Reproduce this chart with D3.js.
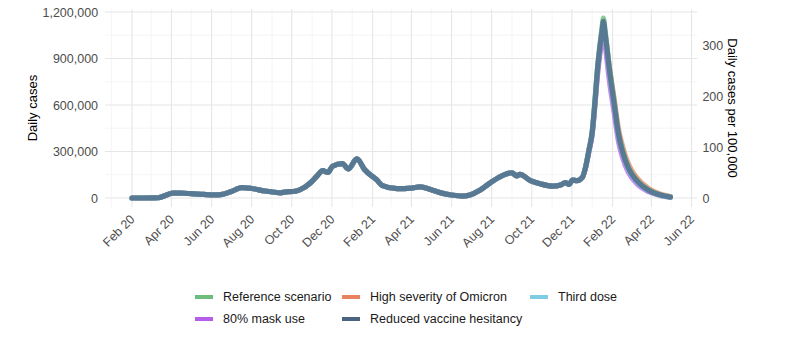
<!DOCTYPE html>
<html>
<head>
<meta charset="utf-8">
<script src="https://cdn.jsdelivr.net/npm/d3@7"></script>
<style>
  html, body { margin: 0; padding: 0; background: #fff; }
  svg { display: block; font-family: "Liberation Sans", Arial, Helvetica, sans-serif; }
</style>
</head>
<body>
<svg id="chart" width="800" height="348"></svg>
<script>
// ---------------- DATA ----------------
const histDates = [
  "2020-02-01","2020-03-01","2020-03-12","2020-03-22","2020-04-03","2020-04-15","2020-05-01","2020-05-20",
  "2020-06-05","2020-06-15","2020-06-30","2020-07-17","2020-08-01","2020-08-21","2020-09-05","2020-09-14",
  "2020-09-22","2020-10-03","2020-10-13","2020-10-30","2020-11-09","2020-11-17","2020-11-25","2020-12-02",
  "2020-12-17","2020-12-26","2021-01-08","2021-01-20","2021-02-07","2021-02-16","2021-03-10","2021-04-01",
  "2021-04-14","2021-05-02","2021-05-16","2021-06-01","2021-06-18","2021-06-29","2021-07-14","2021-07-29",
  "2021-08-19","2021-09-01","2021-09-08","2021-09-13","2021-09-29","2021-10-15","2021-11-02","2021-11-14",
  "2021-11-21","2021-11-27","2021-12-02","2021-12-09"
];
const histCases = [
  0, 300, 1500, 15000, 31000, 31000, 28000, 23000,
  20000, 22000, 40000, 67000, 61000, 45000, 37000, 33000,
  40000, 42000, 52000, 100000, 145000, 176000, 165000, 205000,
  222000, 187000, 252000, 182000, 118000, 80000, 60000, 64000,
  72000, 52000, 33000, 19000, 12000, 20000, 50000, 95000,
  148000, 163000, 142000, 153000, 112000, 90000, 77000, 84000,
  99000, 88000, 116000, 112000
];

const projDates = [
  "2021-12-17","2021-12-22","2021-12-27","2022-01-01","2022-01-05","2022-01-09","2022-01-13","2022-01-16",
  "2022-01-18","2022-01-21","2022-01-27","2022-02-03","2022-02-10","2022-02-16","2022-02-25","2022-03-10",
  "2022-03-28","2022-04-15","2022-04-30"
];
// values in thousands of daily cases
const referenceProj = [133,200,310,430,620,840,1000,1100,1160,1065,845,632,420,310,200,116,52,20,7];
const severityProj  = [133,200,305,420,600,815,965,1055,1110,1040,850,650,445,335,220,130,60,24,9];
const thirdDoseProj = [133,200,308,425,610,825,980,1075,1130,1035,815,605,400,292,185,105,46,17,6];
const maskProj      = [133,198,300,410,590,790,940,1030,1080,980,760,560,365,262,165,92,40,15,5];
const hesitancyProj = [133,200,308,425,612,828,985,1082,1140,1050,830,618,410,300,192,110,49,19,6];

const seriesNames  = ["Reference scenario","High severity of Omicron","Third dose","80% mask use","Reduced vaccine hesitancy"];
const seriesColors = ["#6dbd7d","#e9825f","#7fcce3","#b55ee9","#4b6483"];
const seriesOpacity = [0.8, 0.75, 0.75, 0.75, 0.78];
const seriesProj   = [referenceProj, severityProj, thirdDoseProj, maskProj, hesitancyProj];

const yTicks = [0, 300000, 600000, 900000, 1200000];
const yMinor = [150000, 450000, 750000, 1050000];
const y2Ticks = [0, 100, 200, 300];
const xTicks = ["2020-02-01","2020-04-01","2020-06-01","2020-08-01","2020-10-01","2020-12-01","2021-02-01",
  "2021-04-01","2021-06-01","2021-08-01","2021-10-01","2021-12-01","2022-02-01","2022-04-01","2022-06-01"];
const xMinor = ["2020-01-01","2020-03-01","2020-05-01","2020-07-01","2020-09-01","2020-11-01","2021-01-01",
  "2021-03-01","2021-05-01","2021-07-01","2021-09-01","2021-11-01","2022-01-01","2022-03-01","2022-05-01"];
const population100k = 3290; // cases per 1 per-100,000 unit (US population ~329M)

// ---------------- CHART ----------------
const parse = d3.timeParse("%Y-%m-%d");
const svg = d3.select("#chart");

const allDates = histDates.concat(projDates).map(parse);
const dMin = d3.min(allDates), dMax = d3.max(allDates);
const span = dMax - dMin;

const x = d3.scaleTime().domain([parse("2020-02-01"), parse("2022-02-01")]).range([132, 612.6]);
const y = d3.scaleLinear().domain([0, 1200000]).range([198, 12]);

const xLo = x(new Date(+dMin - span * 0.05)), xHi = x(new Date(+dMax + span * 0.05));
const yMaxData = d3.max(seriesProj.flat()) * 1000;
const yTop = y(yMaxData * 1.05), yBot = y(-yMaxData * 0.05);

// grid
const grid = svg.append("g");
grid.selectAll(".ymin").data(yMinor).join("line")
  .attr("x1", xLo).attr("x2", xHi).attr("y1", d => y(d)).attr("y2", d => y(d))
  .attr("stroke", "#efefef").attr("stroke-width", 0.6);
grid.selectAll(".xmin").data(xMinor.map(parse).filter(d => x(d) >= xLo && x(d) <= xHi)).join("line")
  .attr("y1", yTop).attr("y2", yBot).attr("x1", d => x(d)).attr("x2", d => x(d))
  .attr("stroke", "#efefef").attr("stroke-width", 0.6);
grid.selectAll(".ymaj").data(yTicks).join("line")
  .attr("x1", xLo).attr("x2", xHi).attr("y1", d => y(d)).attr("y2", d => y(d))
  .attr("stroke", "#e6e6e6").attr("stroke-width", 1.1);
grid.selectAll(".xmaj").data(xTicks.map(parse)).join("line")
  .attr("y1", yTop).attr("y2", yBot).attr("x1", d => x(d)).attr("x2", d => x(d))
  .attr("stroke", "#e6e6e6").attr("stroke-width", 1.1);

// lines
const line = d3.line().x(d => x(d.date)).y(d => y(d.value)).curve(d3.curveMonotoneX);
const drawOrder = [1, 3, 0, 2, 4];
drawOrder.forEach(i => {
  const pts = histDates.map((d, k) => ({date: parse(d), value: histCases[k]}))
    .concat(projDates.map((d, k) => ({date: parse(d), value: seriesProj[i][k] * 1000})));
  svg.append("path").datum(pts)
    .attr("fill", "none").attr("stroke", seriesColors[i]).attr("stroke-width", 5.2)
    .attr("stroke-linejoin", "round").attr("stroke-linecap", "round")
    .attr("opacity", seriesOpacity[i]).attr("d", line);
});

// left axis
const fmt = d3.format(",");
const leftAxis = d3.axisLeft(y).tickValues(yTicks).tickFormat(fmt).tickSize(0).tickPadding(0);
const gL = svg.append("g").attr("transform", `translate(${xLo - 7},0)`).call(leftAxis);
gL.select(".domain").remove();
gL.selectAll("text").attr("font-size", "12.5px").attr("fill", "#4d4d4d").attr("font-family", "Liberation Sans, Arial, sans-serif");

// right axis
const y2 = d3.scaleLinear().domain([0, 1200000 / population100k]).range([198, 12]);
const rightAxis = d3.axisRight(y2).tickValues(y2Ticks).tickSize(0).tickPadding(0);
const gR = svg.append("g").attr("transform", `translate(${xHi + 5},0)`).call(rightAxis);
gR.select(".domain").remove();
gR.selectAll("text").attr("font-size", "12.5px").attr("fill", "#4d4d4d").attr("font-family", "Liberation Sans, Arial, sans-serif");

// bottom axis
const bottomAxis = d3.axisBottom(x).tickValues(xTicks.map(parse)).tickFormat(d3.timeFormat("%b %y")).tickSize(0).tickPadding(0);
const gB = svg.append("g").attr("transform", `translate(0,${yBot})`).call(bottomAxis);
gB.select(".domain").remove();
gB.selectAll("text")
  .attr("font-size", "12.5px").attr("fill", "#4d4d4d").attr("font-family", "Liberation Sans, Arial, sans-serif")
  .attr("text-anchor", "end").attr("dy", null).attr("y", 0)
  .attr("transform", "translate(3,13) rotate(-45)");

// axis titles
svg.append("text").attr("transform", `translate(37,${(yTop + yBot) / 2}) rotate(-90)`)
  .attr("text-anchor", "middle").attr("font-size", "13px").attr("fill", "#000").text("Daily cases");
svg.append("text").attr("transform", `translate(728,${(yTop + yBot) / 2}) rotate(90)`)
  .attr("text-anchor", "middle").attr("font-size", "13px").attr("fill", "#000").text("Daily cases per 100,000");

// legend
const legendPos = [[195, 297], [342, 297], [530, 297], [195, 319], [342, 319]];
const lg = svg.append("g");
seriesNames.forEach((name, i) => {
  const [lx, ly] = legendPos[i];
  lg.append("line").attr("x1", lx).attr("x2", lx + 18).attr("y1", ly).attr("y2", ly)
    .attr("stroke", seriesColors[i]).attr("stroke-width", 4);
  lg.append("text").attr("x", lx + 28).attr("y", ly).attr("dy", "0.35em")
    .attr("font-size", "12.5px").attr("fill", "#1a1a1a").text(name);
});
</script>
</body>
</html>
